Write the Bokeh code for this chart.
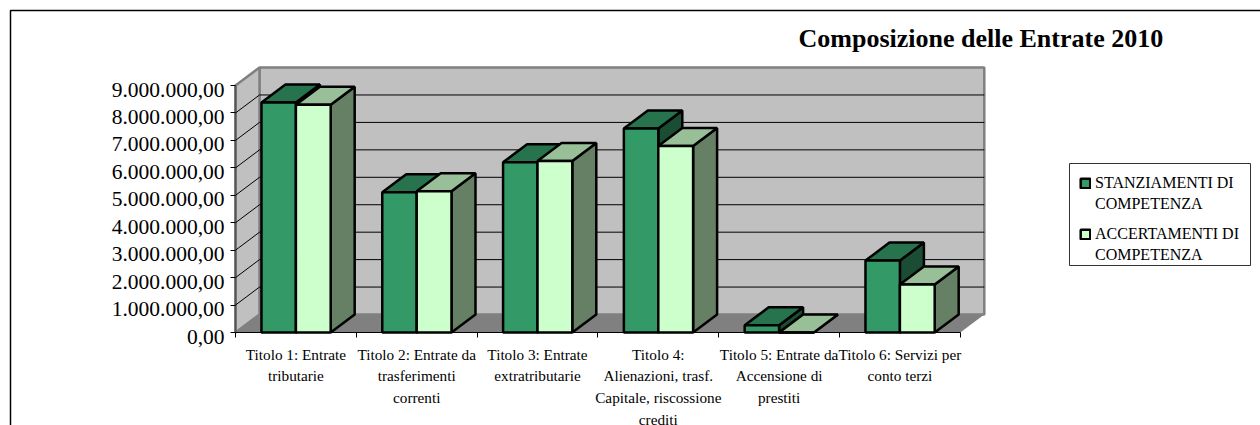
from bokeh.embed import file_html
from bokeh.resources import INLINE
from bokeh.plotting import figure
from bokeh.models import (Range1d, LinearAxis, FixedTicker, Legend, LegendItem,
                          BoxAnnotation, Label)

categories = [
    "Titolo 1: Entrate\ntributarie",
    "Titolo 2: Entrate da\ntrasferimenti\ncorrenti",
    "Titolo 3: Entrate\nextratributarie",
    "Titolo 4:\nAlienazioni, trasf.\nCapitale, riscossione\ncrediti",
    "Titolo 5: Entrate da\nAccensione di\nprestiti",
    "Titolo 6: Servizi per\nconto terzi",
]
stanziamenti = [8380000, 5110000, 6200000, 7430000, 260000, 2620000]
accertamenti = [8300000, 5150000, 6250000, 6800000, 0, 1750000]
y_ticks = [0, 1000000, 2000000, 3000000, 4000000, 5000000, 6000000, 7000000, 8000000, 9000000]
y_tick_labels = ["0,00", "1.000.000,00", "2.000.000,00", "3.000.000,00", "4.000.000,00",
                 "5.000.000,00", "6.000.000,00", "7.000.000,00", "8.000.000,00", "9.000.000,00"]
series_lines = [["STANZIAMENTI DI", "COMPETENZA"], ["ACCERTAMENTI DI", "COMPETENZA"]]
title_text = "Composizione delle Entrate 2010"

SERIF = "Liberation Serif"
W, H = 1260, 425
X0, Y0 = 235, 332
PX_X = 120.8
PX_Y = 27.44 / 1e6
DX = 24 / PX_X
DY = 18 / PX_Y
N = len(categories)

p = figure(width=W, height=H, output_backend="svg", toolbar_location=None,
           x_axis_type=None, y_axis_type=None,
           x_range=Range1d(-X0 / PX_X, (W - X0) / PX_X),
           y_range=Range1d((Y0 - H) / PX_Y, Y0 / PX_Y),
           min_border=0, outline_line_color=None, background_fill_color=None)
p.xgrid.visible = False
p.ygrid.visible = False

top_value = y_ticks[-1]
WALL = "#C0C0C0"
EDGE = "#808080"
p.patch([DX, N + DX, N + DX, DX], [DY, DY, top_value + DY, top_value + DY],
        fill_color=WALL, line_color=EDGE, line_width=2.5)
p.patch([0, DX, DX, 0], [0, DY, top_value + DY, top_value],
        fill_color=WALL, line_color=EDGE, line_width=2.5)
p.patch([0, N, N + DX, DX], [0, 0, DY, DY], fill_color="#808080", line_color=None)
p.line([0, 0], [0, top_value], line_color="#555555", line_width=2)

grid = y_ticks[1:-1]
p.multi_line([[0, DX, N + DX] for _ in grid], [[v, v + DY, v + DY] for v in grid],
             line_color="#000000", line_width=1)


def draw(values, x0, x1, front, top, side):
    lefts = [i + x0 for i in range(N)]
    rights = [i + x1 for i in range(N)]
    p.patches([[r, r + DX, r + DX, r] for r in rights],
              [[0, DY, v + DY, v] for v in values],
              fill_color=side, line_color="#000000", line_width=2.5)
    p.patches([[l, r, r + DX, l + DX] for l, r in zip(lefts, rights)],
              [[v, v, v + DY, v + DY] for v in values],
              fill_color=top, line_color="#000000", line_width=2.5)
    return p.quad(left=lefts, right=rights, bottom=[0] * N, top=values,
                  fill_color=front, line_color="#000000", line_width=2.5)


r1 = draw(stanziamenti, 0.215, 0.5, "#339966", "#26734D", "#1A4D33")
r2 = draw(accertamenti, 0.5, 0.788, "#CCFFCC", "#99BF99", "#668066")

LABEL_SHIFT = 4 / PX_Y
label_pos = [v - LABEL_SHIFT for v in y_ticks]
yaxis = LinearAxis(fixed_location=0, bounds=(label_pos[0], top_value),
                   ticker=FixedTicker(ticks=label_pos, minor_ticks=y_ticks),
                   major_label_overrides=dict(zip(label_pos, y_tick_labels)),
                   major_label_text_font=SERIF, major_label_text_font_size="21.5px",
                   major_label_text_color="#000000", major_label_standoff=6,
                   major_tick_in=0, major_tick_out=0, major_tick_line_color=None,
                   minor_tick_in=0, minor_tick_out=5, minor_tick_line_color="#000000",
                   axis_line_color=None)
p.add_layout(yaxis, "left")

centers = [i + 0.5 for i in range(N)]
xaxis = LinearAxis(fixed_location=0, bounds=(0, N),
                   ticker=FixedTicker(ticks=centers, minor_ticks=list(range(N + 1))),
                   major_label_overrides=dict(zip(centers, categories)),
                   major_label_text_font=SERIF, major_label_text_font_size="15.25px",
                   major_label_text_color="#000000", major_label_standoff=8,
                   major_label_text_line_height=1.28,
                   major_tick_in=0, major_tick_out=0, major_tick_line_color=None,
                   minor_tick_in=0, minor_tick_out=5, minor_tick_line_color="#000000",
                   axis_line_color="#000000", axis_line_width=1)
p.add_layout(xaxis, "below")

legend_box = BoxAnnotation(left=1069, right=1250, top=163, bottom=265,
                           left_units="canvas", right_units="canvas",
                           top_units="canvas", bottom_units="canvas",
                           fill_color="#FFFFFF", fill_alpha=1,
                           line_color="#333333", line_alpha=1, line_width=1)
p.add_layout(legend_box)

for lines, renderer, y in ((series_lines[0], r1, 211), (series_lines[1], r2, 160)):
    legend = Legend(items=[LegendItem(label=lines[0], renderers=[renderer]),
                           LegendItem(label=lines[1], renderers=[])],
                    location=(1079, y), label_text_font=SERIF, label_text_font_size="16px",
                    label_text_color="#000000", label_height=21, label_standoff=4,
                    glyph_width=12, glyph_height=12, spacing=0, padding=0, margin=0,
                    border_line_color=None, background_fill_alpha=0)
    p.add_layout(legend, "center")

title = Label(x=798, y=H - 37.5, x_units="screen", y_units="screen", text=title_text,
              text_font=SERIF, text_font_size="26px", text_font_style="bold",
              text_color="#000000", text_baseline="middle", text_align="left")
p.add_layout(title)

frame_box = BoxAnnotation(left=10, right=3000, top=10, bottom=2000,
                          left_units="canvas", right_units="canvas",
                          top_units="canvas", bottom_units="canvas",
                          fill_color=None, fill_alpha=0, line_color="#000000",
                          line_alpha=1, line_width=1.5)
p.add_layout(frame_box)

open("out.html", "w").write(file_html(p, INLINE))
